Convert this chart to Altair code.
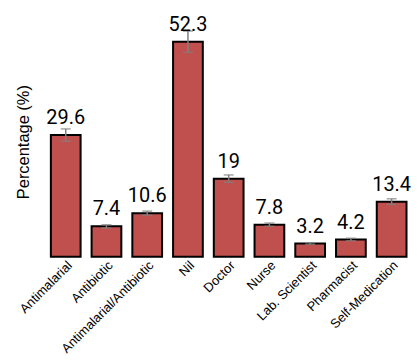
import altair as alt
import pandas as pd

categories = ["Antimalarial", "Antibiotic", "Antimalarial/Antibiotic", "Nil", "Doctor",
              "Nurse", "Lab. Scientist", "Pharmacist", "Self-Medication"]
values = [29.6, 7.4, 10.6, 52.3, 19, 7.8, 3.2, 4.2, 13.4]
errors = [1.5, 0.4, 0.5, 2.6, 0.9, 0.4, 0.2, 0.3, 0.7]
labels = ["29.6", "7.4", "10.6", "52.3", "19", "7.8", "3.2", "4.2", "13.4"]

df = pd.DataFrame({"cat": categories, "val": values, "err": errors, "lab": labels})
df["lo"] = df["val"] - df["err"]
df["hi"] = df["val"] + df["err"]

x = alt.X("cat:N", sort=categories, title=None,
          scale=alt.Scale(paddingInner=0.27, paddingOuter=0.135))
yscale = alt.Scale(domain=[0, 56], nice=False)

base = alt.Chart(df)

bars = base.mark_bar(color="#c0504d", stroke="black", strokeWidth=2).encode(
    x=x,
    y=alt.Y("val:Q", scale=yscale, title="Percentage (%)"),
)

rules = base.mark_rule(color="#808080", strokeWidth=1.5).encode(
    x=x, y=alt.Y("lo:Q", scale=yscale, title="Percentage (%)"), y2="hi:Q")
caps_lo = base.mark_tick(color="#808080", thickness=1.5, size=10).encode(
    x=x, y=alt.Y("lo:Q", scale=yscale, title="Percentage (%)"))
caps_hi = base.mark_tick(color="#808080", thickness=1.5, size=10).encode(
    x=x, y=alt.Y("hi:Q", scale=yscale, title="Percentage (%)"))

text = base.mark_text(dy=-11, baseline="alphabetic", fontSize=20, font="Roboto",
                      color="black").encode(
    x=x, y=alt.Y("val:Q", scale=yscale, title="Percentage (%)"), text="lab:N")

chart = alt.layer(bars, rules, caps_lo, caps_hi, text).properties(
    width=368, height=231,
    autosize=alt.AutoSizeParams(type="none"),
    padding={"left": 37.5, "top": 18, "right": 0, "bottom": 100},
    background="white",
).configure_view(stroke=None).configure_axisY(
    labels=False, ticks=False, domain=False, grid=False,
    titleFont="Liberation Sans", titleFontSize=16.5, titleFontWeight="normal",
    titleColor="black", titlePadding=14,
).configure_axisX(
    labelAngle=-45, labelAlign="right", labelBaseline="top",
    domain=False, ticks=False, labelPadding=2, grid=False,
    labelFont="Liberation Sans", labelFontSize=13,
    labelColor="black", labelLimit=300,
)

chart.save("out.html", embed_options={"renderer": "svg", "actions": False})
